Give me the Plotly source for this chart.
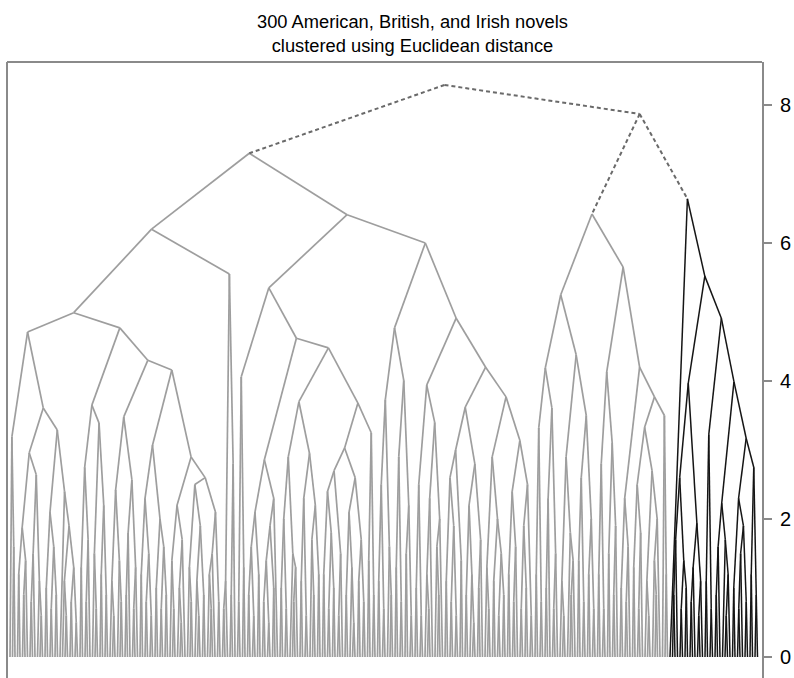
import plotly.graph_objects as go

# ------------------------------------------------------------------
# DATA: height at which each pair of neighbouring novels (leaf order,
# left -> right) is joined in the dendrogram.  Blocks = sub-clusters,
# the single values between them are the heights of the joins.
# ------------------------------------------------------------------
F_L = [3.19, 1.6]
F_RL_a = [1.2, 1.88, 0.9, 1.4]
F_RL_b = [0.8, 1.5, 2.64, 1.1, 0.6]
F_RR_a = [1.0, 2.1, 0.7, 1.6, 0.9]
F_RR_b = [2.4, 1.1, 0.6, 1.9, 0.8, 1.3, 0.5]
G_L_a = [1.3, 2.75, 0.8, 1.7]
G_L_b = [1.5, 0.7, 3.39, 1.2, 2.2, 0.9]
G_RL_a = [1.1, 0.6, 2.42, 1.4, 0.8]
G_RL_b = [0.9, 1.8, 2.57, 0.7, 1.3]
G_RR_a = [1.2, 2.3, 0.8, 1.5, 0.6, 3.07, 1.0, 2.0, 0.7, 1.6, 0.9]
G_RR_b = [1.4, 0.7, 2.2, 1.0, 0.5, 1.7, 2.9, 1.3, 0.8, 2.5, 1.1, 0.6, 1.9, 0.9,
          2.6, 1.2, 0.7, 1.5, 2.1, 0.8]
E_ = [0.7, 1.1, 5.55, 0.9, 2.8]
H_L = [0.8, 4.06, 1.3]
H_RL = [0.9, 1.6, 0.6, 2.1, 1.2, 2.86, 0.8, 1.4, 0.5, 1.9, 1.0, 2.3]
H_RR_a1 = [1.0, 2.0, 0.7, 2.9, 1.5, 0.8, 1.3]
H_RR_a2 = [1.1, 2.3, 0.6, 2.95, 1.7, 0.9, 2.2, 1.2]
H_RR_b1 = [1.2, 2.4, 0.7, 1.8, 1.0, 2.7, 0.6, 1.5, 3.03, 0.9, 2.1, 1.3, 0.5, 2.6,
           1.1, 1.7, 0.8]
H_RR_b2 = [1.4, 3.25, 0.9]
I_L_a = [1.1, 2.5, 0.7, 3.73, 1.6, 0.9]
I_L_b = [1.3, 2.9, 0.8, 4.01, 1.5, 2.2, 0.6]
I_R_a1 = [1.0, 2.5, 0.6]
I_R_a2 = [1.2, 0.7, 2.3, 3.4, 1.6, 0.9, 2.0]
I_R_b1 = [1.1, 2.6, 0.8, 1.9, 0.6, 3.0, 1.4, 3.62, 0.9, 2.2, 1.2, 0.5, 2.8, 1.0, 1.7]
I_R_b2a = [1.3, 0.7, 2.9, 1.1, 2.0, 0.6, 1.5, 0.9]
I_R_b2b = [1.2, 2.4, 0.8, 1.6, 3.14, 0.7, 1.9, 1.0, 2.5, 0.6]
J_L1a = [1.2, 3.32, 0.8]
J_L1b = [1.0, 2.3, 3.61, 0.7, 1.5]
J_L2a = [1.1, 0.6, 2.9, 1.8, 0.9, 1.4]
J_L2b = [1.4, 2.6, 0.8, 3.5, 1.2, 2.0, 0.7]
J_R1 = [1.2, 2.8, 0.7, 4.13, 1.5, 3.1, 0.9, 1.9]
J_R2a = [1.0, 2.3, 0.8, 1.6]
J_R2b1 = [1.3, 2.5, 0.7, 1.8, 3.33, 1.1, 0.6, 2.7, 1.4, 0.9, 2.0]
J_R2b2 = [3.5, 1.2]
K_L = []
K_R1a = [0.9, 1.7, 2.6, 0.7, 1.4, 1.0]
K_R1b = [0.8, 1.3, 1.94, 0.6, 1.1]
K_R2a = [1.1, 3.22, 0.7]
K_R2b1 = [0.9, 1.6, 2.23, 1.7, 0.6, 1.2]
K_R2b2a = [1.0, 2.3, 0.7, 1.5, 1.9, 0.8]
K_R2b2b = [1.2, 2.75, 0.9]

gaps = (F_L + [4.71] + F_RL_a + [2.96] + F_RL_b + [3.61] + F_RR_a + [3.29] + F_RR_b
        + [4.99]
        + G_L_a + [3.65] + G_L_b + [4.77] + G_RL_a + [3.48] + G_RL_b + [4.30]
        + G_RR_a + [4.16] + G_RR_b
        + [6.20] + E_
        + [7.30]
        + H_L + [5.35] + H_RL + [4.62] + H_RR_a1 + [3.70] + H_RR_a2 + [4.48]
        + H_RR_b1 + [3.68] + H_RR_b2
        + [6.41]
        + I_L_a + [4.77] + I_L_b + [6.00] + I_R_a1 + [3.94] + I_R_a2 + [4.91]
        + I_R_b1 + [4.20] + I_R_b2a + [3.77] + I_R_b2b
        + [8.29]
        + J_L1a + [4.19] + J_L1b + [5.25] + J_L2a + [4.38] + J_L2b + [6.42]
        + J_R1 + [5.65] + J_R2a + [4.20] + J_R2b1 + [3.77] + J_R2b2
        + [7.87]
        + K_L + [6.64] + K_R1a + [3.97] + K_R1b + [5.52] + K_R2a + [4.91]
        + K_R2b1 + [3.99] + K_R2b2a + [3.17] + K_R2b2b)

TITLE = "300 American, British, and Irish novels<br>clustered using Euclidean distance"
Y_TICKS = [0, 2, 4, 6, 8]
BLACK_FROM_LEAF = 264      # first leaf of the black (Irish) cluster
DASH_ABOVE = 7.5           # joins above this height are drawn dashed

n_leaves = len(gaps) + 1
assert n_leaves == 300, n_leaves

segs = {"gray": ([], []), "black": ([], []), "dash": ([], [])}


def build(lo, hi):
    if lo == hi:
        return float(lo), 0.0
    k = max(range(lo, hi), key=lambda j: gaps[j])
    xl, hl = build(lo, k)
    xr, hr = build(k + 1, hi)
    h = gaps[k]
    x = (xl + xr) / 2.0
    if h >= DASH_ABOVE:
        st = "dash"
    elif lo >= BLACK_FROM_LEAF:
        st = "black"
    else:
        st = "gray"
    xs, ys = segs[st]
    for cx, ch in ((xl, hl), (xr, hr)):
        xs += [x, cx, None]
        ys += [h, ch, None]
    return x, h


build(0, n_leaves - 1)

fig = go.Figure()
fig.add_trace(go.Scatter(x=segs["gray"][0], y=segs["gray"][1], mode="lines",
                         line=dict(color="#9e9e9e", width=1.7), hoverinfo="skip"))
fig.add_trace(go.Scatter(x=segs["black"][0], y=segs["black"][1], mode="lines",
                         line=dict(color="#151515", width=1.5), hoverinfo="skip"))
fig.add_trace(go.Scatter(x=segs["dash"][0], y=segs["dash"][1], mode="lines",
                         line=dict(color="#6a6a6a", width=2, dash="4px,3px"),
                         hoverinfo="skip"))

frame = "#8a8a8a"
fig.update_layout(
    width=794, height=678,
    margin=dict(l=7, r=32, t=62, b=0, autoexpand=False),
    paper_bgcolor="white", plot_bgcolor="white",
    showlegend=False,
    font=dict(family="Liberation Sans, Arial, sans-serif", color="black"),
    xaxis=dict(range=[-1.2, 300.8], visible=False),
    yaxis=dict(range=[-0.304, 8.623], side="right", tickvals=Y_TICKS,
               ticks="outside", ticklen=8, tickwidth=1.5, tickcolor=frame,
               ticklabelstandoff=4,
               showline=True, linecolor=frame, linewidth=2,
               showgrid=False, zeroline=False, automargin=False,
               tickfont=dict(size=20, color="black")),
    shapes=[
        dict(type="line", xref="paper", yref="paper", x0=0, x1=0, y0=-0.05, y1=1,
             line=dict(color=frame, width=2)),
        dict(type="line", xref="paper", yref="paper", x0=0, x1=1, y0=1, y1=1,
             line=dict(color=frame, width=2)),
    ],
    annotations=[dict(text=TITLE, xref="paper", yref="paper", x=0.5377, y=1,
                      xanchor="center", yanchor="bottom", yshift=4,
                      showarrow=False, align="center",
                      font=dict(size=18.3, color="black"))],
)

fig.write_html("out.html",
               config={"displayModeBar": False},
               post_script="document.body.style.margin='0';"
                           "document.body.style.padding='0';")
